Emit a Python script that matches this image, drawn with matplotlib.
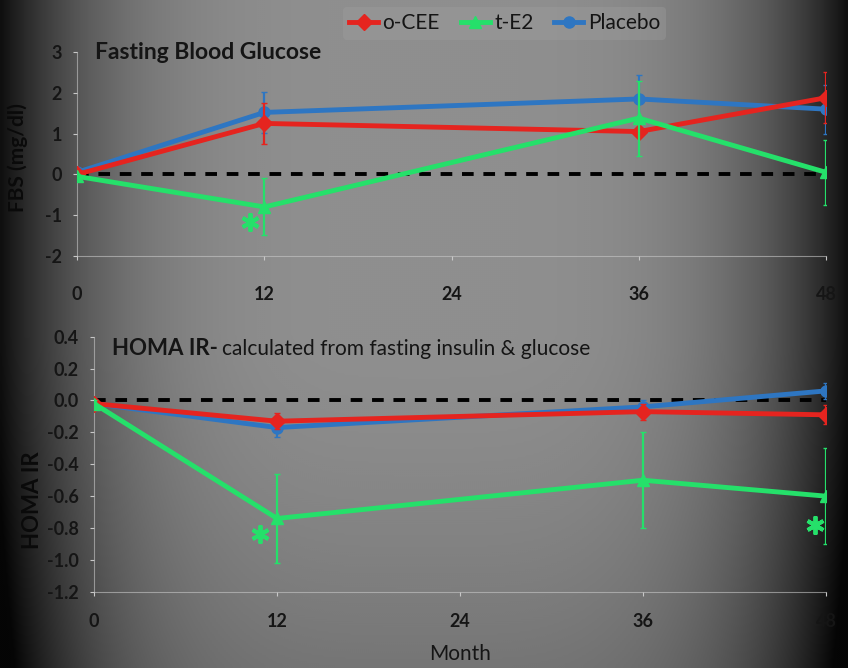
import numpy as np
import matplotlib
matplotlib.use("Agg")
import matplotlib.pyplot as plt
from matplotlib.lines import Line2D
from matplotlib.ticker import FormatStrFormatter

# ── data ──────────────────────────────────────────────
months = [0, 12, 36, 48]

fbs_cee = [0.0, 1.25, 1.05, 1.88]
fbs_cee_err = [0.1, 0.5, 0.0, 0.62]
fbs_e2 = [-0.05, -0.8, 1.38, 0.05]
fbs_e2_err = [0.05, 0.7, 0.92, 0.8]
fbs_plac = [0.05, 1.52, 1.85, 1.6]
fbs_plac_err = [0.05, 0.5, 0.6, 0.6]

homa_cee = [-0.02, -0.13, -0.07, -0.09]
homa_cee_err = [0.02, 0.05, 0.05, 0.06]
homa_e2 = [-0.02, -0.74, -0.5, -0.6]
homa_e2_err = [0.02, 0.28, 0.3, 0.3]
homa_plac = [-0.02, -0.17, -0.04, 0.06]
homa_plac_err = [0.02, 0.06, 0.04, 0.05]

homa_ticks = [-1.2, -1.0, -0.8, -0.6, -0.4, -0.2, 0.0, 0.2, 0.4]

# significance stars (month, value)
fbs_star_x, fbs_star_y = [11.1], [-1.18]
homa_star_x, homa_star_y = [10.9, 47.3], [-0.84, -0.78]

labels = ["o-CEE", "t-E2", "Placebo"]
RED, GREEN, BLUE = "#e5241f", "#25e06a", "#2e76c2"

plt.rcParams["font.family"] = ["Lato", "DejaVu Sans"]
plt.rcParams["axes.unicode_minus"] = False

fig = plt.figure(figsize=(8.48, 6.68), dpi=100)

# background: gray centre, dark sides, slightly darker towards bottom
bg = fig.add_axes([0, 0, 1, 1], zorder=-10)
gx, gy = np.meshgrid(np.linspace(-1, 1, 424), np.linspace(-1, 1, 334))
shade = 0.06 + 0.5 * (1 - np.abs(gx) ** 4) - 0.1 * np.clip(gy, 0, 1) ** 1.5
shade = np.clip(shade, 0.02, 1.0)
bg.imshow(shade, cmap="gray", vmin=0, vmax=1, aspect="auto",
          extent=[0, 1, 0, 1], interpolation="bicubic")
bg.set_axis_off()

SPINE = "#c8c8c8"
TXT = "#151515"


def style(ax):
    ax.set_facecolor("none")
    for s in ("top", "right"):
        ax.spines[s].set_visible(False)
    for s in ("left", "bottom"):
        ax.spines[s].set_color(SPINE)
        ax.spines[s].set_linewidth(0.8)
        ax.spines[s].set_alpha(0.6)
    ax.tick_params(colors=SPINE, labelcolor=TXT, labelsize=13, length=3)
    for t in ax.get_xticklabels() + ax.get_yticklabels():
        t.set_fontweight("bold")


def draw(ax, cee, cee_e, e2, e2_e, pl, pl_e):
    ax.axhline(0, color="black", lw=2.8, ls=(0, (3, 2.5)), zorder=1)
    ax.errorbar(months, cee, yerr=cee_e, color=RED, lw=3.5, marker="D", ms=8,
                elinewidth=1.6, capsize=2, zorder=3)
    ax.errorbar(months, e2, yerr=e2_e, color=GREEN, lw=3.5, marker="^", ms=8,
                elinewidth=1.6, capsize=2, zorder=4)
    ax.errorbar(months, pl, yerr=pl_e, color=BLUE, lw=3.5, marker="o", ms=8,
                elinewidth=1.6, capsize=2, zorder=2)
    ax.set_xlim(0, 48)
    ax.set_xticks([0, 12, 24, 36, 48])


# ── top: fasting blood glucose ───────────────────────
ax1 = fig.add_axes([0.091, 0.617, 0.883, 0.305])
draw(ax1, fbs_cee, fbs_cee_err, fbs_e2, fbs_e2_err, fbs_plac, fbs_plac_err)
ax1.plot(fbs_star_x, fbs_star_y, ls="none", marker=(6, 2, 0), ms=13,
         mew=2.8, color=GREEN, zorder=5)
ax1.set_ylim(-2, 3)
ax1.set_yticks([-2, -1, 0, 1, 2, 3])
ax1.set_ylabel("FBS (mg/dl)", fontsize=15, fontweight="bold", color="#0a0a0a")
ax1.yaxis.set_label_coords(-0.065, 0.48)
ax1.text(0.024, 1.0, "Fasting Blood Glucose", transform=ax1.transAxes,
         fontsize=16.5, fontweight="bold", color=TXT, va="center")
style(ax1)
ax1.tick_params(axis="x", pad=19)
ax1.tick_params(axis="y", pad=8)

handles = [Line2D([], [], color=c, lw=3.5, marker=m, ms=8)
           for c, m in zip([RED, GREEN, BLUE], ["D", "^", "o"])]
leg = fig.legend(handles, labels, loc="upper center",
                 bbox_to_anchor=(0.595, 1.005), ncol=3, frameon=True,
                 fontsize=15, handlelength=1.4, columnspacing=1.0,
                 handletextpad=0.2, borderpad=0.3)
leg.get_frame().set_facecolor("#a0a0a0")
leg.get_frame().set_edgecolor("none")
leg.get_frame().set_alpha(0.35)
for t in leg.get_texts():
    t.set_color(TXT)

# ── bottom: HOMA IR ──────────────────────────────────
ax2 = fig.add_axes([0.111, 0.114, 0.863, 0.382])
draw(ax2, homa_cee, homa_cee_err, homa_e2, homa_e2_err, homa_plac, homa_plac_err)
ax2.plot(homa_star_x, homa_star_y, ls="none", marker=(6, 2, 0), ms=13,
         mew=2.8, color=GREEN, zorder=5)
ax2.set_ylim(-1.2, 0.4)
ax2.set_yticks(homa_ticks)
ax2.yaxis.set_major_formatter(FormatStrFormatter("%.1f"))
ax2.set_ylabel("HOMA IR", fontsize=16, fontweight="bold", color="#0a0a0a")
ax2.yaxis.set_label_coords(-0.07, 0.36)
ax2.set_xlabel("Month", fontsize=15, color=TXT, labelpad=10)
ax2.text(0.025, 0.955, "HOMA IR-", transform=ax2.transAxes,
         fontsize=16, fontweight="bold", color=TXT, va="center")
ax2.text(0.175, 0.95, "calculated from fasting insulin & glucose",
         transform=ax2.transAxes, fontsize=15, color=TXT, va="center")
style(ax2)
ax2.tick_params(axis="x", pad=12)
ax2.tick_params(axis="y", pad=8)

fig.savefig("out.png", dpi=100)
